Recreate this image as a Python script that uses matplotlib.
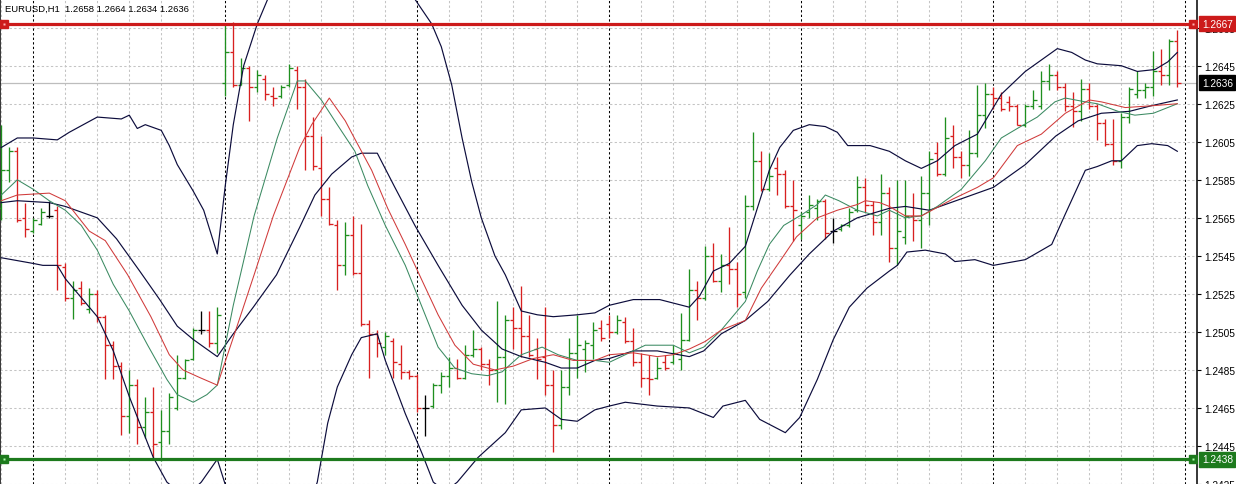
import matplotlib
matplotlib.use("Agg")
import matplotlib.pyplot as plt
import matplotlib.transforms as mtransforms

caption = "EURUSD,H1  1.2658 1.2664 1.2634 1.2636"

bar_open = [
    1.2570, 1.2590, 1.2600, 1.2565, 1.2558, 1.2562, 1.2566, 1.2569, 1.2539, 1.2523,
    1.2528, 1.2517, 1.2525, 1.2513, 1.2498, 1.2487, 1.2461, 1.2477, 1.2455, 1.2463,
    1.2447, 1.2453, 1.2465, 1.2481, 1.2491, 1.2506, 1.2506, 1.2499, 1.2636, 1.2652,
    1.2635, 1.2644, 1.2634, 1.2638, 1.2629, 1.2629, 1.2635, 1.2643, 1.2634, 1.2608,
    1.2591, 1.2575, 1.2561, 1.2540, 1.2556, 1.2536, 1.2509, 1.2504, 1.2497, 1.2500,
    1.2488, 1.2484, 1.2482, 1.2465, 1.2466, 1.2477, 1.2482, 1.2486, 1.2481, 1.2493,
    1.2496, 1.2488, 1.2485, 1.2492, 1.2511, 1.2507, 1.2503, 1.2496, 1.2492, 1.2477,
    1.2456, 1.2476, 1.2494, 1.2496, 1.2498, 1.2507, 1.2509, 1.2505, 1.2510, 1.2500,
    1.2489, 1.2481, 1.2481, 1.2489, 1.2489, 1.2491, 1.2501, 1.2527, 1.2523, 1.2545,
    1.2532, 1.2540, 1.2538, 1.2526, 1.2571, 1.2595, 1.2580, 1.2591, 1.2588, 1.2571,
    1.2561, 1.2568, 1.2570, 1.2574, 1.2558, 1.2559, 1.2561, 1.2569, 1.2581, 1.2572,
    1.2563, 1.2578, 1.2549, 1.2555, 1.2566, 1.2564, 1.2578, 1.2599, 1.2588, 1.2608,
    1.2597, 1.2593, 1.2599, 1.2619, 1.2630, 1.2628, 1.2626, 1.2624, 1.2614, 1.2624,
    1.2624, 1.2637, 1.2640, 1.2634, 1.2624, 1.2621, 1.2633, 1.2624, 1.2615, 1.2604,
    1.2595, 1.2618, 1.2630, 1.2632, 1.2634, 1.2642, 1.2640, 1.2658,
]
bar_high = [
    1.2614, 1.2602, 1.2602, 1.2573, 1.2565, 1.2570, 1.2574, 1.2571, 1.2541, 1.2532,
    1.2532, 1.2528, 1.2527, 1.2514, 1.2500, 1.2489, 1.2485, 1.2480, 1.2471, 1.2476,
    1.2464, 1.2473, 1.2493, 1.2491, 1.2507, 1.2516, 1.2516, 1.2518, 1.2667, 1.2668,
    1.2649, 1.2645, 1.2643, 1.2640, 1.2634, 1.2635, 1.2646, 1.2645, 1.2638, 1.2618,
    1.2608, 1.2581, 1.2564, 1.2563, 1.2566, 1.2562, 1.2511, 1.2506, 1.2505, 1.2502,
    1.2498, 1.2485, 1.2483, 1.2472, 1.2478, 1.2484, 1.2492, 1.2491, 1.2498, 1.2506,
    1.2497, 1.2491, 1.2521, 1.2514, 1.2518, 1.2529, 1.2514, 1.2502, 1.2518, 1.2485,
    1.2485, 1.2502, 1.2514, 1.2501, 1.2510, 1.2511, 1.2514, 1.2514, 1.2513, 1.2507,
    1.2494, 1.2493, 1.2492, 1.2493, 1.2498, 1.2515, 1.2538, 1.2532, 1.2550, 1.2552,
    1.2546, 1.2560, 1.2542, 1.2577, 1.2610, 1.2600, 1.2599, 1.2597, 1.2590, 1.2585,
    1.2568, 1.2577, 1.2575, 1.2575, 1.2565, 1.2562, 1.2570, 1.2587, 1.2586, 1.2574,
    1.2588, 1.2581, 1.2585, 1.2585, 1.2578, 1.2587, 1.2600, 1.2605, 1.2618, 1.2614,
    1.2600, 1.2611, 1.2635, 1.2636, 1.2634, 1.2631, 1.2629, 1.2625, 1.2625, 1.2632,
    1.2642, 1.2646, 1.2642, 1.2636, 1.2631, 1.2638, 1.2636, 1.2625, 1.2617, 1.2617,
    1.2620, 1.2634, 1.2642, 1.2636, 1.2653, 1.2654, 1.2659, 1.2664,
]
bar_low = [
    1.2564, 1.2584, 1.2563, 1.2555, 1.2557, 1.2561, 1.2565, 1.2527, 1.2521, 1.2512,
    1.2519, 1.2515, 1.2510, 1.2480, 1.2480, 1.2451, 1.2452, 1.2446, 1.2449, 1.2438,
    1.2437, 1.2446, 1.2464, 1.2480, 1.2490, 1.2504, 1.2497, 1.2494, 1.2629, 1.2634,
    1.2635, 1.2616, 1.2631, 1.2627, 1.2624, 1.2628, 1.2634, 1.2622, 1.2590, 1.2590,
    1.2566, 1.2561, 1.2527, 1.2535, 1.2535, 1.2508, 1.2481, 1.2492, 1.2493, 1.2481,
    1.2480, 1.2480, 1.2463, 1.2450, 1.2465, 1.2473, 1.2476, 1.2480, 1.2480, 1.2492,
    1.2485, 1.2477, 1.2468, 1.2467, 1.2496, 1.2492, 1.2492, 1.2480, 1.2472, 1.2442,
    1.2454, 1.2472, 1.2481, 1.2484, 1.2491, 1.2500, 1.2502, 1.2504, 1.2499, 1.2487,
    1.2476, 1.2472, 1.2480, 1.2485, 1.2488, 1.2485, 1.2500, 1.2511, 1.2522, 1.2531,
    1.2526, 1.2530, 1.2518, 1.2523, 1.2569, 1.2579, 1.2579, 1.2577, 1.2570, 1.2553,
    1.2554, 1.2565, 1.2564, 1.2554, 1.2552, 1.2558, 1.2560, 1.2568, 1.2568, 1.2556,
    1.2556, 1.2542, 1.2540, 1.2551, 1.2553, 1.2549, 1.2561, 1.2587, 1.2587, 1.2591,
    1.2586, 1.2587, 1.2597, 1.2612, 1.2622, 1.2621, 1.2621, 1.2614, 1.2613, 1.2622,
    1.2622, 1.2632, 1.2632, 1.2621, 1.2613, 1.2616, 1.2622, 1.2606, 1.2603, 1.2593,
    1.2591, 1.2615, 1.2628, 1.2628, 1.2629, 1.2635, 1.2635, 1.2634,
]
bar_close = [
    1.2590, 1.2600, 1.2564, 1.2559, 1.2564, 1.2568, 1.2566, 1.2540, 1.2523, 1.2527,
    1.2520, 1.2525, 1.2513, 1.2498, 1.2487, 1.2461, 1.2477, 1.2455, 1.2463, 1.2446,
    1.2453, 1.2471, 1.2481, 1.2490, 1.2506, 1.2506, 1.2499, 1.2514, 1.2652, 1.2635,
    1.2644, 1.2634, 1.2640, 1.2630, 1.2628, 1.2634, 1.2644, 1.2634, 1.2608, 1.2592,
    1.2575, 1.2562, 1.2540, 1.2556, 1.2536, 1.2509, 1.2504, 1.2499, 1.2503, 1.2489,
    1.2484, 1.2482, 1.2465, 1.2465, 1.2477, 1.2482, 1.2486, 1.2481, 1.2493, 1.2496,
    1.2488, 1.2485, 1.2492, 1.2511, 1.2507, 1.2503, 1.2493, 1.2491, 1.2477, 1.2456,
    1.2476, 1.2494, 1.2498, 1.2499, 1.2506, 1.2502, 1.2505, 1.2511, 1.2500, 1.2489,
    1.2481, 1.2480, 1.2486, 1.2486, 1.2494, 1.2501, 1.2527, 1.2523, 1.2545, 1.2532,
    1.2540, 1.2538, 1.2525, 1.2571, 1.2595, 1.2580, 1.2587, 1.2588, 1.2571, 1.2569,
    1.2566, 1.2572, 1.2574, 1.2557, 1.2558, 1.2561, 1.2568, 1.2581, 1.2572, 1.2563,
    1.2578, 1.2549, 1.2558, 1.2566, 1.2564, 1.2578, 1.2596, 1.2588, 1.2607, 1.2597,
    1.2593, 1.2599, 1.2619, 1.2630, 1.2628, 1.2622, 1.2624, 1.2614, 1.2624, 1.2627,
    1.2637, 1.2640, 1.2634, 1.2624, 1.2621, 1.2633, 1.2624, 1.2615, 1.2604, 1.2595,
    1.2618, 1.2633, 1.2632, 1.2634, 1.2642, 1.2640, 1.2658, 1.2636,
]

# Bollinger bands and moving averages, sampled along the bars
upper_idx = [0, 2, 4, 7, 8.5, 12, 15, 16, 17, 18, 20, 21, 22, 24, 25.3, 27, 28, 29, 30.3, 32,
             33.3, 36, 40, 44, 48, 51.7, 53.8, 55, 56.3, 57.6, 58.8, 60, 61.7, 63, 65, 67, 69,
             72, 74.2, 76, 79, 82.3, 86, 87.3, 89, 91, 93, 94.5, 96, 97.3, 99, 101, 103, 104.5,
             105.8, 108.6, 111, 113, 115, 117, 119.2, 122, 123, 125, 128, 130, 132, 133.8,
             135.5, 137, 140, 142, 144.2, 145.8, 147]
upper_val = [1.2602, 1.2607, 1.2607, 1.2606, 1.2610, 1.2618, 1.2617, 1.2619, 1.2612, 1.2614,
             1.2611, 1.2603, 1.2593, 1.2579, 1.2569, 1.2546, 1.2582, 1.2614, 1.2645, 1.2667,
             1.2680, 1.2696, 1.2709, 1.2709, 1.2698, 1.2680, 1.2667, 1.2655, 1.2635, 1.2607,
             1.2584, 1.2565, 1.2545, 1.2535, 1.2516, 1.2514, 1.2513, 1.2514, 1.2515, 1.2519,
             1.2522, 1.2522, 1.2518, 1.2524, 1.2537, 1.2541, 1.2550, 1.2570, 1.2590, 1.2602,
             1.2611, 1.2614, 1.2613, 1.2610, 1.2603, 1.2603, 1.2600, 1.2595, 1.2591, 1.2595,
             1.2603, 1.2609, 1.2616, 1.2630, 1.2642, 1.2648, 1.2654, 1.2652, 1.2648, 1.2646,
             1.2645, 1.2642, 1.2643, 1.2647, 1.2652]

lower_idx = [0, 4, 5.2, 7, 8, 12, 14, 16, 17.3, 19, 20.7, 23, 25, 27, 28.5, 30, 33, 36, 38,
             39.5, 40.8, 42, 43.8, 45, 47, 48, 50.5, 52.6, 54, 55.5, 57, 59.6, 63, 65, 68, 70,
             72, 74.2, 76, 78, 82, 86, 89, 90.2, 93, 94.8, 98, 99.8, 102, 104, 106, 108.2, 111,
             112, 113.2, 115.5, 118, 119.2, 121.7, 124, 128, 131.3, 133, 135.5, 137, 138.8,
             140, 142, 143.8, 145.8, 147]
lower_val = [1.2544, 1.2541, 1.2540, 1.2540, 1.2533, 1.2513, 1.2495, 1.2471, 1.2457, 1.2439,
             1.2426, 1.2418, 1.2426, 1.2438, 1.2418, 1.2387, 1.2366, 1.2382, 1.2408, 1.2426,
             1.2457, 1.2476, 1.2493, 1.2502, 1.2504, 1.2490, 1.2462, 1.2441, 1.2426, 1.2421,
             1.2426, 1.2439, 1.2452, 1.2464, 1.2465, 1.2459, 1.2458, 1.2464, 1.2466, 1.2468,
             1.2466, 1.2465, 1.2460, 1.2466, 1.2469, 1.2459, 1.2452, 1.2460, 1.2480, 1.2501,
             1.2518, 1.2528, 1.2537, 1.2540, 1.2547, 1.2548, 1.2546, 1.2542, 1.2543, 1.2540,
             1.2543, 1.2551, 1.2567, 1.2590, 1.2592, 1.2595, 1.2595, 1.2603, 1.2604, 1.2603,
             1.2600]

middle_idx = [0, 2, 6, 8, 12, 14.4, 17.3, 19.8, 22, 24, 27, 29, 31.5, 34.4, 37.3, 39.2, 41.3,
              43.8, 45, 47, 49.2, 51.7, 54.6, 57.6, 60, 62.6, 65, 68, 70, 72, 74.2, 76, 79, 82,
              86, 87.8, 90, 93, 95.8, 98.6, 101, 104, 107, 111, 113, 116, 120, 124, 128, 131.8,
              134.6, 137.5, 141, 143.8, 147]
middle_val = [1.2573, 1.2574, 1.2573, 1.2571, 1.2565, 1.2554, 1.2537, 1.2522, 1.2508, 1.2501,
              1.2492, 1.2504, 1.2518, 1.2535, 1.2560, 1.2577, 1.2588, 1.2597, 1.2599, 1.2599,
              1.2581, 1.2561, 1.2540, 1.2519, 1.2506, 1.2496, 1.2492, 1.2489, 1.2486, 1.2486,
              1.2490, 1.2491, 1.2495, 1.2495, 1.2492, 1.2495, 1.2504, 1.2511, 1.2521, 1.2535,
              1.2546, 1.2558, 1.2565, 1.2570, 1.2571, 1.2569, 1.2575, 1.2581, 1.2593, 1.2608,
              1.2616, 1.2620, 1.2621, 1.2624, 1.2627]

fast_idx = [0, 2, 4, 6, 8, 10, 12, 14, 16, 18.3, 20.7, 22, 24, 25.7, 27, 29, 31.6, 34.5, 36.5,
            37, 38, 40, 42, 44.2, 45.8, 48, 50.5, 52.6, 54.6, 56.7, 58.8, 60.8, 62.6, 65, 67.6,
            69.6, 72, 74.2, 76, 78, 80.5, 84, 86, 87.8, 90, 93, 94.5, 96, 97.8, 99.8, 102, 103,
            104.7, 107, 109.5, 111, 113, 115, 117, 120, 123, 125, 127, 129.5, 131.7, 133, 135.5,
            137, 139.6, 141.7, 144, 147]
fast_val = [1.2577, 1.2585, 1.2580, 1.2574, 1.2569, 1.2561, 1.2548, 1.2530, 1.2516, 1.2498,
            1.2480, 1.2472, 1.2468, 1.2472, 1.2477, 1.2519, 1.2566, 1.2607, 1.2631, 1.2637,
            1.2637, 1.2627, 1.2614, 1.2600, 1.2582, 1.2561, 1.2540, 1.2518, 1.2497, 1.2486,
            1.2483, 1.2482, 1.2484, 1.2493, 1.2497, 1.2493, 1.2490, 1.2490, 1.2489, 1.2493,
            1.2498, 1.2498, 1.2494, 1.2497, 1.2506, 1.2521, 1.2537, 1.2551, 1.2561, 1.2566,
            1.2572, 1.2577, 1.2574, 1.2569, 1.2566, 1.2569, 1.2565, 1.2566, 1.2571, 1.2580,
            1.2595, 1.2607, 1.2612, 1.2618, 1.2626, 1.2628, 1.2626, 1.2625, 1.2621, 1.2619,
            1.2620, 1.2625]

slow_idx = [0, 2, 6, 8, 11, 13, 15.8, 18.7, 21, 22.7, 24.8, 27, 29, 31.6, 34, 37.3, 38.8, 41,
            43, 44, 46.3, 48.3, 50.5, 52.6, 54.6, 56.7, 59, 61.7, 64, 66.5, 69, 71.5, 74.2, 76,
            79, 82, 84, 86, 88, 90, 93, 95, 97.3, 99.4, 102, 104.5, 107, 108, 109.8, 111, 113,
            115, 119, 122, 124, 127, 130, 133, 136, 137.5, 140.5, 144, 147]
slow_val = [1.2574, 1.2577, 1.2578, 1.2574, 1.2558, 1.2553, 1.2535, 1.2513, 1.2493, 1.2485,
            1.2481, 1.2477, 1.2502, 1.2535, 1.2566, 1.2602, 1.2614, 1.2628, 1.2616, 1.2608,
            1.2590, 1.2570, 1.2551, 1.2532, 1.2514, 1.2498, 1.2488, 1.2485, 1.2487, 1.2491,
            1.2493, 1.2490, 1.2490, 1.2493, 1.2494, 1.2492, 1.2493, 1.2496, 1.2500, 1.2506,
            1.2511, 1.2528, 1.2542, 1.2555, 1.2565, 1.2569, 1.2572, 1.2574, 1.2573, 1.2571,
            1.2566, 1.2566, 1.2575, 1.2581, 1.2586, 1.2603, 1.2609, 1.2620, 1.2627, 1.2626,
            1.2623, 1.2624, 1.2625]

resistance = 1.2667
support = 1.2438
last_price = 1.2636
price_ticks = [1.2425, 1.2445, 1.2465, 1.2485, 1.2505, 1.2525, 1.2545, 1.2565,
               1.2585, 1.2605, 1.2625, 1.2645, 1.2665]

GREEN = "#1f8f1f"
RED = "#d82020"
NAVY = "#0c0c3c"
FONT = ["Liberation Sans", "DejaVu Sans"]

fig = plt.figure(figsize=(12.36, 4.85), dpi=100)
ax = fig.add_axes([0, 0, 1197 / 1236, 1])

n = len(bar_open)
idx = list(range(n))
ax.set_xlim(-0.16, 149.46)
ax.set_ylim(1.24261, 1.26801)

# grid: light dashed every 4 bars, black dashed day separators
dash = (0, (2.2, 2.2))
for k in range(0, 152, 4):
    if (k - 4) % 24 == 0:
        ax.axvline(k, color="black", lw=0.75, ls=dash, zorder=1)
    else:
        ax.axvline(k, color="#c4c4c4", lw=0.75, ls=dash, zorder=0)
for p in price_ticks:
    ax.axhline(p, color="#c4c4c4", lw=0.75, ls=dash, zorder=0)

ax.axhline(last_price, color="#bdbdbd", lw=0.9, zorder=1)

# OHLC bars
colors = []
for o, c in zip(bar_open, bar_close):
    if c > o:
        colors.append(GREEN)
    elif c < o:
        colors.append(RED)
    else:
        colors.append("black")
ax.vlines(idx, bar_low, bar_high, colors=colors, lw=0.95, zorder=3, snap=True)
ax.hlines(bar_open, [i - 0.42 for i in idx], idx, colors=colors, lw=0.95, zorder=3,
          snap=True)
ax.hlines(bar_close, idx, [i + 0.42 for i in idx], colors=colors, lw=0.95, zorder=3,
          snap=True)

# indicators
ax.plot(upper_idx, upper_val, color=NAVY, lw=0.85, zorder=4)
ax.plot(lower_idx, lower_val, color=NAVY, lw=0.85, zorder=4)
ax.plot(middle_idx, middle_val, color=NAVY, lw=0.85, zorder=4)
ax.plot(fast_idx, fast_val, color="#3b8a62", lw=0.75, zorder=4)
ax.plot(slow_idx, slow_val, color="#d03a3a", lw=0.75, zorder=4)

# support / resistance lines
ax.axhline(resistance, color="#cc1a1a", lw=2.3, zorder=5)
ax.axhline(support, color="#1d7a1d", lw=2.3, zorder=5)
for lvl, col, dot in [(resistance, "#cc1a1a", "#ffb0b0"), (support, "#1d7a1d", "#b0ffb0")]:
    ax.plot([0.35, 148.95], [lvl, lvl], ls="none", marker="s", ms=5.5,
            mfc=col, mec=col, zorder=6)
    ax.plot([0.35, 148.95], [lvl, lvl], ls="none", marker="s", ms=1.6,
            mfc=dot, mec="none", zorder=7)

# axis styling
ax.yaxis.tick_right()
ax.set_yticks(price_ticks)
ax.set_yticklabels([f"{p:.4f}" for p in price_ticks], family=FONT)
ax.tick_params(axis="y", length=3, width=0.8, pad=2, labelsize=7.3, colors="black")
ax.set_xticks([])
for side in ["top", "bottom"]:
    ax.spines[side].set_visible(False)
ax.spines["right"].set_linewidth(1.1)
ax.spines["left"].set_linewidth(1.1)

# price labels on the right scale
trans = mtransforms.blended_transform_factory(ax.transAxes, ax.transData)
for lvl, bg in [(resistance, "#cc1a1a"), (last_price, "black"), (support, "#1d7a1d")]:
    ax.text(1.004, lvl, f"{lvl:.4f}", transform=trans, ha="left", va="center",
            fontsize=7.3, family=FONT, color="white", clip_on=False, zorder=10,
            bbox=dict(boxstyle="square,pad=0.25", fc=bg, ec=bg))

fig.text(5 / 1236, 1 - 9 / 485, caption, fontsize=6.8, family=FONT,
         va="center", ha="left")

fig.savefig("out.png", dpi=100)
